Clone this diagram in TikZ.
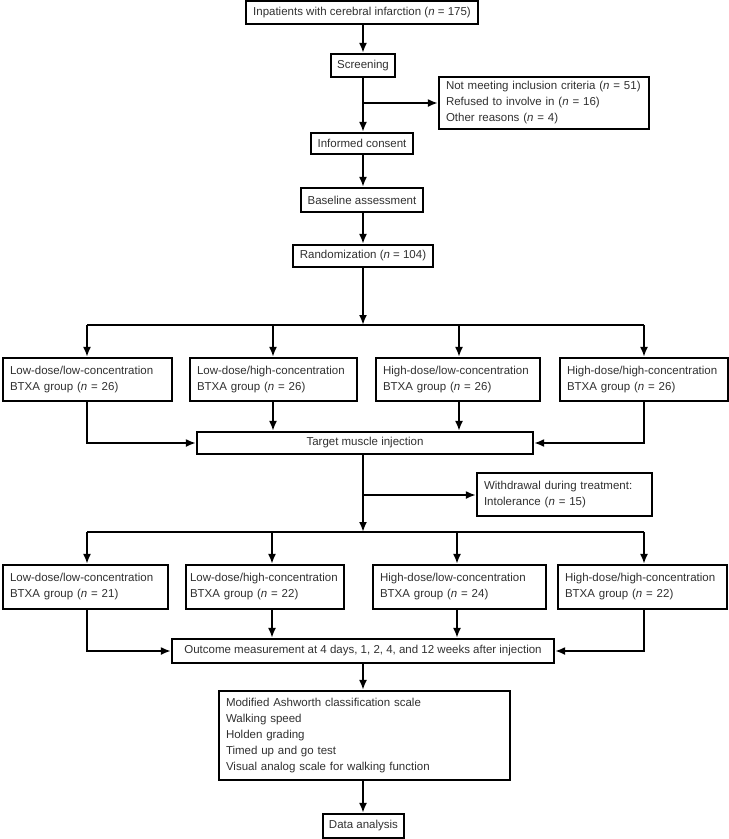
\documentclass[tikz,border=0pt]{standalone}
\usepackage{fontspec}
\setmainfont{Liberation Sans}
\usetikzlibrary{arrows.meta,calc}
\definecolor{txt}{HTML}{303030}
\begin{document}
\begin{tikzpicture}[x=1pt,y=-1pt,
  box/.style={draw=black,line width=2.2pt,text=txt,inner sep=0pt,
    font=\fontsize{11.5}{16}\selectfont},
  lbox/.style={box,align=left,inner xsep=7pt},
  arr/.style={line width=2pt,-{Latex[length=10pt,width=8pt]}},
  ln/.style={line width=2pt}]
\useasboundingbox (0,0) rectangle (729,839);

% top column
\node[box,minimum width=232,minimum height=23] (inp) at (362,12.5) {Inpatients with cerebral infarction (\textit{n} = 175)};
\node[box,minimum width=64,minimum height=23] (scr) at (363,65.5) {Screening};
\node[lbox,text width=196,minimum height=52] (exc) at (544,103) {Not meeting inclusion criteria (\textit{n} = 51)\\Refused to involve in (\textit{n} = 16)\\Other reasons (\textit{n} = 4)};
\node[box,minimum width=102,minimum height=21] (inf) at (362,143.5) {Informed consent};
\node[box,minimum width=122,minimum height=24] (bas) at (362,200) {Baseline assessment};
\node[box,minimum width=140,minimum height=22] (ran) at (363,256) {Randomization (\textit{n} = 104)};

% first group row
\node[lbox,text width=155,minimum height=43] (g1) at (87.5,379.5) {Low-dose/low-concentration\\BTXA group (\textit{n} = 26)};
\node[lbox,text width=153,minimum height=43] (g2) at (273.5,379.5) {Low-dose/high-concentration\\BTXA group (\textit{n} = 26)};
\node[lbox,text width=150,minimum height=43] (g3) at (458,379.5) {High-dose/low-concentration\\BTXA group (\textit{n} = 26)};
\node[lbox,text width=154,minimum height=43] (g4) at (644,379.5) {High-dose/high-concentration\\BTXA group (\textit{n} = 26)};

\node[box,minimum width=336,minimum height=22] (tgt) at (365,443) {Target muscle injection};
\node[lbox,text width=161,minimum height=43] (wd) at (564.5,494.5) {Withdrawal during treatment:\\Intolerance (\textit{n} = 15)};

% second group row
\node[lbox,text width=151,minimum height=44] (h1) at (85.5,587) {Low-dose/low-concentration\\BTXA group (\textit{n} = 21)};
\node[lbox,inner xsep=4pt,text width=150,minimum height=44] (h2) at (265,587) {Low-dose/high-concentration\\BTXA group (\textit{n} = 22)};
\node[lbox,text width=159,minimum height=44] (h3) at (459.5,587) {High-dose/low-concentration\\BTXA group (\textit{n} = 24)};
\node[lbox,text width=155,minimum height=44] (h4) at (642.5,587) {High-dose/high-concentration\\BTXA group (\textit{n} = 22)};

\node[box,minimum width=382,minimum height=24] (out) at (363,651) {Outcome measurement at 4 days, 1, 2, 4, and 12 weeks after injection};
\node[lbox,text width=277,minimum height=89] (mea) at (364.5,735.5) {Modified Ashworth classification scale\\Walking speed\\Holden grading\\Timed up and go test\\Visual analog scale for walking function};
\node[box,minimum width=81,minimum height=24] (dat) at (363.5,826) {Data analysis};

% coordinates
\coordinate (b1) at (363,103);
\coordinate (s1) at (363,325);
\coordinate (a1) at (87,325);
\coordinate (a2) at (273,325);
\coordinate (a3) at (459,325);
\coordinate (a4) at (644,325);
\coordinate (b2) at (363,495);
\coordinate (s2) at (363,532);
\coordinate (c1) at (87,532);
\coordinate (c2) at (272,532);
\coordinate (c3) at (457,532);
\coordinate (c4) at (644,532);

% connectors
\draw[arr] (inp.south -| scr) -- (scr.north);
\draw[arr] (scr.south) -- (scr.south |- inf.north);
\draw[arr] (b1) -- (exc.west |- b1);
\draw[arr] (inf.south -| scr) -- (scr |- bas.north);
\draw[arr] (bas.south -| scr) -- (scr |- ran.north);
\draw[arr] (ran.south -| s1) -- (s1);
\draw[ln] (a1) -- (a4);
\foreach \i/\g in {1/g1,2/g2,3/g3,4/g4}
  \draw[arr] (a\i) -- (a\i |- \g.north);
\draw[arr] (a1 |- g1.south) |- (tgt.west);
\draw[arr] (a2 |- g2.south) -- (a2 |- tgt.north);
\draw[arr] (a3 |- g3.south) -- (a3 |- tgt.north);
\draw[arr] (a4 |- g4.south) |- (tgt.east);
\draw[arr] (tgt.south -| s2) -- (s2);
\draw[arr] (b2) -- (wd.west |- b2);
\draw[ln] (c1) -- (c4);
\foreach \i/\g in {1/h1,2/h2,3/h3,4/h4}
  \draw[arr] (c\i) -- (c\i |- \g.north);
\draw[arr] (c1 |- h1.south) |- (out.west);
\draw[arr] (c2 |- h2.south) -- (c2 |- out.north);
\draw[arr] (c3 |- h3.south) -- (c3 |- out.north);
\draw[arr] (c4 |- h4.south) |- (out.east);
\draw[arr] (out.south -| s2) -- (s2 |- mea.north);
\draw[arr] (mea.south -| s2) -- (s2 |- dat.north);
\end{tikzpicture}
\end{document}
